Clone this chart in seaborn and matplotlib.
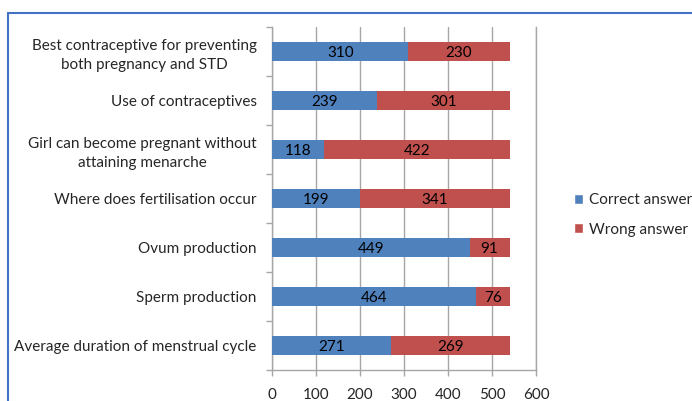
import matplotlib
matplotlib.use("Agg")
import matplotlib.pyplot as plt
import seaborn as sns
import pandas as pd
import numpy as np
from matplotlib.patches import Rectangle, Patch

questions = [
    "Best contraceptive for preventing\nboth pregnancy and STD",
    "Use of contraceptives",
    "Girl can become pregnant without\nattaining menarche",
    "Where does fertilisation occur",
    "Ovum production",
    "Sperm production",
    "Average duration of menstrual cycle",
]
correct = [310, 239, 118, 199, 449, 464, 271]
wrong = [230, 301, 422, 341, 91, 76, 269]
x_ticks = [0, 100, 200, 300, 400, 500, 600]

BLUE = "#4F81BD"
RED = "#C0504D"
GRID = "#A6A6A6"
FS = 11

df = pd.DataFrame({"question": questions, "correct": correct, "wrong": wrong})
df["total"] = df["correct"] + df["wrong"]

sns.set_theme(style="white")
plt.rcParams["font.family"] = ["Lato", "DejaVu Sans"]

fig = plt.figure(figsize=(6.92, 4.01), dpi=100)
ax = fig.add_axes([272 / 692, 1 - 370 / 401, 264 / 692, (370 - 27) / 401])

# stacked horizontal bars: full length in red, correct share over it in blue
sns.barplot(data=df, y="question", x="total", color=RED, saturation=1,
            width=0.39, orient="h", ax=ax, zorder=2, edgecolor="none",
            linewidth=0)
sns.barplot(data=df, y="question", x="correct", color=BLUE, saturation=1,
            width=0.39, orient="h", ax=ax, zorder=3, edgecolor="none",
            linewidth=0)

for i, (c, w) in enumerate(zip(correct, wrong)):
    ax.text(c / 2, i, str(c), ha="center", va="center_baseline", fontsize=FS,
            color="black", zorder=4)
    ax.text(c + w / 2, i, str(w), ha="center", va="center_baseline",
            fontsize=FS, color="black", zorder=4)

ax.set_xlim(0, 600)
ax.set_ylim(len(questions) - 0.5, -0.5)
ax.set_xticks(x_ticks)
ax.set_xticklabels([str(t) for t in x_ticks], fontsize=FS)
ax.set_yticks(range(len(questions)))
ax.set_yticklabels(questions, fontsize=FS, multialignment="center",
                   linespacing=1.45)
ax.set_yticks(np.arange(-0.5, len(questions) + 0.5, 1), minor=True)
ax.tick_params(axis="y", which="major", length=0, pad=11)
ax.tick_params(axis="y", which="minor", length=4, width=1, color=GRID,
               direction="out", left=True)
ax.tick_params(axis="x", which="major", length=4, width=1, color=GRID,
               direction="out", bottom=True, pad=9)
ax.set_xlabel("")
ax.set_ylabel("")

ax.xaxis.grid(True, color=GRID, linewidth=1)
ax.set_axisbelow(True)
ax.spines["top"].set_visible(False)
ax.spines["right"].set_visible(True)
for side in ["left", "bottom", "right"]:
    ax.spines[side].set_color(GRID)
    ax.spines[side].set_linewidth(1)

handles = [Patch(facecolor=BLUE, label="Correct answer"),
           Patch(facecolor=RED, label="Wrong answer")]
fig.legend(handles=handles, loc="center left",
           bbox_to_anchor=(574 / 692, 1 - 215 / 401), frameon=False,
           fontsize=FS, handlelength=0.6, handleheight=0.6,
           handletextpad=0.4, labelspacing=1.0, borderaxespad=0,
           borderpad=0)

# chart frame
fig.patches.append(Rectangle((8 / 692, -0.2), 1.2, 1 - 13 / 401 + 0.2,
                             transform=fig.transFigure, fill=False,
                             edgecolor="#4472C4", linewidth=1.5))

fig.savefig("out.png", dpi=100, facecolor="white")
